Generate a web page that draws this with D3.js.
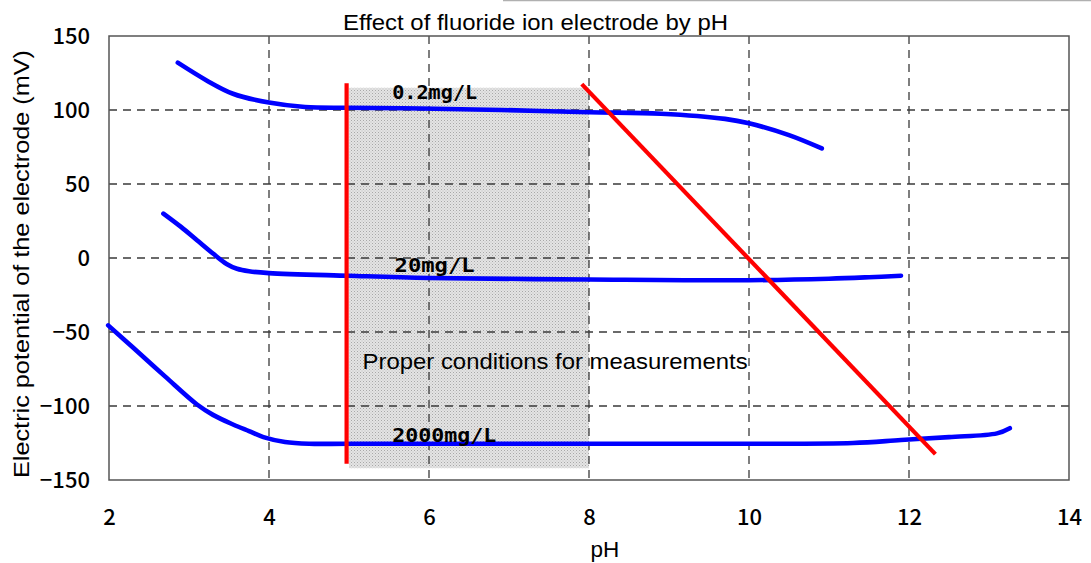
<!DOCTYPE html>
<html><head><meta charset="utf-8">
<script src="https://cdn.jsdelivr.net/npm/d3@7"></script>
<style>html,body{margin:0;padding:0;background:#fff;}svg{display:block;}</style>
</head><body><svg id="c" width="1091" height="563"></svg>
<script>
// ---- data ----
const xTicks = [2, 4, 6, 8, 10, 12, 14];
const yTicks = [150, 100, 50, 0, -50, -100, -150];
const curve02 = [[2.86,132],[3.22,120],[3.55,111],[4.0,105],[4.45,102],[5,101.5],[5.9,101],[6.9,100],[8,98.5],[8.9,97.5],[9.7,94],[10.0,91],[10.5,83],[10.91,74]];
const curve20 = [[2.68,30],[2.9,21],[3.1,12],[3.3,3],[3.47,-4],[3.6,-7.3],[3.75,-9],[4.0,-10.2],[5,-12],[6,-13.5],[8,-14.5],[10,-15],[11,-14],[11.5,-13],[11.9,-12]];
const curve2000 = [[1.99,-45.5],[2.3,-60.5],[2.7,-80],[3.1,-99],[3.3,-106],[3.55,-112.5],[3.75,-117],[3.93,-121],[4.2,-124.3],[4.5,-125.5],[5,-125.5],[8,-125.5],[10,-125.5],[11.3,-125],[11.9,-123],[12.5,-121],[13.1,-118.5],[13.26,-115]];
const seriesLabels = [
  {text:"0.2mg/L", x:5.54, y:107.5, w:85},
  {text:"20mg/L", x:5.57, y:-9.5, w:80},
  {text:"2000mg/L", x:5.54, y:-124, w:104}
];
const shadeRange = {x0:5.0, x1:8.0, y0:115, y1:-142};
const redVertical = [[4.97,118],[4.97,-139]];
const redDiagonal = [[7.91,117.5],[12.33,-132.5]];
const noteText = {text:"Proper conditions for measurements", x:5.17, y:-75, w:385};

// ---- layout ----
const W = 1091, H = 563;
const m = {l:109, r:22, t:36, b:83};
const svg = d3.select("#c");
const x = d3.scaleLinear().domain([2,14]).range([m.l, W - m.r]);
const y = d3.scaleLinear().domain([-150,150]).range([H - m.b, m.t]);

// decorative top line
svg.append("line").attr("x1",503).attr("x2",W).attr("y1",0.5).attr("y2",0.5)
  .attr("stroke","#b0b0b0").attr("stroke-width",1.5);

// shade pattern
const defs = svg.append("defs");
const pat = defs.append("pattern").attr("id","dots").attr("width",3).attr("height",3)
  .attr("patternUnits","userSpaceOnUse");
pat.append("rect").attr("width",3).attr("height",3).attr("fill","#e4e4e4");
pat.append("rect").attr("x",0).attr("y",0).attr("width",1).attr("height",1).attr("fill","#a8a8a8");
pat.append("rect").attr("x",1.5).attr("y",1.5).attr("width",1).attr("height",1).attr("fill","#bcbcbc");

svg.append("rect")
  .attr("x", x(shadeRange.x0)).attr("y", y(shadeRange.y0))
  .attr("width", x(shadeRange.x1) - x(shadeRange.x0))
  .attr("height", y(shadeRange.y1) - y(shadeRange.y0))
  .attr("fill","url(#dots)");

// grid
const g = svg.append("g");
g.selectAll("line.v").data(xTicks.filter(d => d > 2 && d < 14)).join("line")
  .attr("x1", d => x(d)).attr("x2", d => x(d)).attr("y1", m.t).attr("y2", H - m.b)
  .attr("stroke","#3a3a3a").attr("stroke-width",1.3).attr("stroke-dasharray","8,6");
g.selectAll("line.h").data(yTicks.filter(d => d > -150 && d < 150)).join("line")
  .attr("y1", d => y(d)).attr("y2", d => y(d)).attr("x1", m.l).attr("x2", W - m.r)
  .attr("stroke","#3a3a3a").attr("stroke-width",1.3).attr("stroke-dasharray","8,6");

// frame
svg.append("rect").attr("x", m.l).attr("y", m.t)
  .attr("width", W - m.r - m.l).attr("height", H - m.b - m.t)
  .attr("fill","none").attr("stroke","#555").attr("stroke-width",1.5);

// axes (labels only)
const xAxis = d3.axisBottom(x).tickValues(xTicks).tickSize(0).tickPadding(29);
const gx = svg.append("g").attr("transform",`translate(0,${H - m.b})`).call(xAxis);
const yAxis = d3.axisLeft(y).tickValues(yTicks).tickSize(0).tickPadding(19).tickFormat(d => d < 0 ? "\u2212" + Math.abs(d) : d);
const gy = svg.append("g").attr("transform",`translate(${m.l},0)`).call(yAxis);
[gx, gy].forEach(a => {
  a.select(".domain").remove();
  a.selectAll("text").attr("font-family","'Noto Sans CJK JP', 'DejaVu Sans', sans-serif")
    .attr("font-size",22).attr("font-weight",500).attr("fill","#000");
});

// curves
const line = d3.line().x(d => x(d[0])).y(d => y(d[1])).curve(d3.curveCatmullRom.alpha(0.5));
[curve02, curve20, curve2000].forEach(c => {
  svg.append("path").datum(c).attr("d", line).attr("fill","none")
    .attr("stroke","#0000ff").attr("stroke-width",4.6).attr("stroke-linecap","round");
});

// series labels
svg.selectAll("text.sl").data(seriesLabels).join("text")
  .attr("x", d => x(d.x)).attr("y", d => y(d.y))
  .attr("font-family","'DejaVu Sans Mono', monospace").attr("font-weight","bold")
  .attr("font-size",20).attr("textLength", d => d.w).attr("lengthAdjust","spacingAndGlyphs")
  .attr("fill","#000").text(d => d.text);

// note
svg.append("text").attr("x", x(noteText.x)).attr("y", y(noteText.y))
  .attr("font-family","'Liberation Sans', Arial, sans-serif").attr("font-size",22.5)
  .attr("textLength", noteText.w).attr("lengthAdjust","spacingAndGlyphs")
  .attr("fill","#000").text(noteText.text);

// red lines
const straight = d3.line().x(d => x(d[0])).y(d => y(d[1]));
[redVertical, redDiagonal].forEach(c => {
  svg.append("path").datum(c).attr("d", straight).attr("fill","none")
    .attr("stroke","#ff0000").attr("stroke-width",4.2);
});

// titles
svg.append("text").attr("x", 343).attr("y", 30)
  .attr("font-family","'Liberation Sans', Arial, sans-serif").attr("font-size",22.5)
  .attr("textLength",385).attr("lengthAdjust","spacingAndGlyphs")
  .text("Effect of fluoride ion electrode by pH");
svg.append("text").attr("x", 605).attr("y", 557).attr("text-anchor","middle")
  .attr("font-family","'Liberation Sans', Arial, sans-serif").attr("font-size",22.5)
  .text("pH");
svg.append("text").attr("transform","translate(29,264) rotate(-90)").attr("text-anchor","middle")
  .attr("font-family","'Liberation Sans', Arial, sans-serif").attr("font-size",22.5)
  .attr("textLength",428).attr("lengthAdjust","spacingAndGlyphs")
  .text("Electric potential of the electrode (mV)");
</script></body></html>
